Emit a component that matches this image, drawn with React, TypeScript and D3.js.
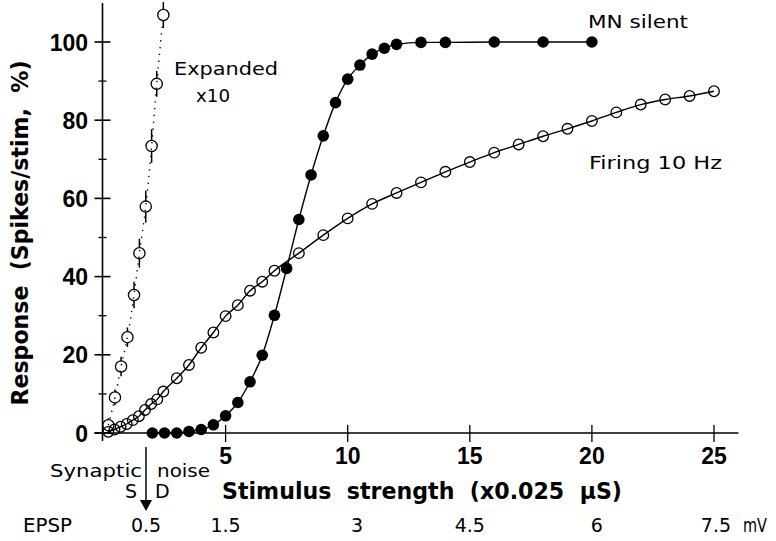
import React from "react";
import * as d3 from "d3";

const W = 776;
const H = 541;

// MN silent (filled circles)
const silentX = [2, 2.5, 3, 3.5, 4, 4.5, 5, 5.5, 6, 6.5, 7, 7.5, 8, 8.5, 9, 9.5, 10, 10.5, 11, 11.5, 12, 13, 14, 16, 18, 20];
const silentY = [0, 0, 0, 0.4, 0.9, 2.1, 4.4, 7.8, 13.1, 19.9, 30.1, 42.1, 54.6, 66.0, 76.0, 84.5, 90.5, 94.1, 96.9, 98.4, 99.4, 99.9, 99.9, 100, 100, 100];

// Firing 10 Hz (open circles)
const firingX = [0.2, 0.45, 0.7, 0.95, 1.2, 1.45, 1.7, 1.95, 2.2, 2.45, 3, 3.5, 4, 4.5, 5, 5.5, 6, 6.5, 7, 8, 9, 10, 11, 12, 13, 14, 15, 16, 17, 18, 19, 20, 21, 22, 23, 24, 25];
const firingY = [0.3, 0.9, 1.6, 2.3, 3.3, 4.3, 5.9, 7.4, 8.6, 10.6, 14.0, 17.4, 21.8, 25.7, 29.9, 32.7, 36.4, 38.7, 41.5, 46.0, 50.6, 54.9, 58.6, 61.4, 64.1, 66.8, 69.3, 71.7, 73.8, 75.9, 77.8, 79.8, 82.0, 84.0, 85.3, 86.2, 87.4];

// Expanded x10 (open circles with error bars, dotted)
const expX = [0.2, 0.47, 0.72, 0.98, 1.25, 1.47, 1.73, 1.97, 2.18, 2.45];
const expY = [2.0, 9.1, 17.0, 24.5, 35.3, 46.0, 57.9, 73.4, 89.3, 106.9];
const expErr = [1.8, 2.0, 2.5, 2.5, 3.4, 3.7, 4.1, 4.3, 3.3, 3.3];

// Axes
const xTicks = [5, 10, 15, 20, 25];
const yMajor = [0, 20, 40, 60, 80, 100];
const yMinor = [10, 30, 50, 70, 90];

// EPSP secondary scale
const epspLabels = ["0.5", "1.5", "3", "4.5", "6", "7.5"];
const epspPos = [1.74, 5.0, 10.38, 15.0, 20.2, 25.08];
const noiseStim = 1.74;

const x = d3.scaleLinear().domain([0, 25]).range([103.5, 714]);
const y = d3.scaleLinear().domain([0, 100]).range([433, 42]);

const line = d3
  .line<[number, number]>()
  .x((d) => x(d[0]))
  .y((d) => y(d[1]))
  .curve(d3.curveMonotoneX);

const zip = (a: number[], b: number[]) => a.map((v, i) => [v, b[i]] as [number, number]);

const BOLD = "'Liberation Sans', Arial, sans-serif";
const TITLE = "'DejaVu Sans', 'Liberation Sans', sans-serif";
const THIN = "'DejaVu Sans', sans-serif";

export default function App() {
  const silent = zip(silentX, silentY);
  const firing = zip(firingX, firingY);
  const expanded = zip(expX, expY);
  const r = 5.3;
  const x0 = x(0);
  const y0 = y(0);
  const arrowX = x(noiseStim);

  return (
    <svg
      width={W}
      height={H}
      viewBox={`0 0 ${W} ${H}`}
      style={{ position: "absolute", left: 0, top: 0, background: "#fff" }}
    >
      <rect x={0} y={0} width={W} height={H} fill="#fff" />

      {/* Axes */}
      <g stroke="#000" strokeWidth={1.6} fill="none">
        <line x1={x0 - 1} y1={y(110)} x2={x0 - 1} y2={y0 + 8} />
        <line x1={x0 - 9} y1={y0} x2={x(26)} y2={y0} />
        {yMajor.map((v) => (
          <line key={"ym" + v} x1={x0 - 9} x2={x0 + 7} y1={y(v)} y2={y(v)} />
        ))}
        {yMinor.map((v) => (
          <line key={"yn" + v} x1={x0 - 5} x2={x0 + 3} y1={y(v)} y2={y(v)} strokeWidth={1.3} />
        ))}
        {xTicks.map((v) => (
          <line key={"xt" + v} x1={x(v)} x2={x(v)} y1={y0 - 8} y2={y0 + 9} strokeWidth={1.3} />
        ))}
      </g>

      {/* Y tick labels */}
      <g fontFamily={BOLD} fontWeight="bold" fontSize={23} textAnchor="end" fill="#000">
        {yMajor.map((v) => (
          <text key={"yl" + v} x={88} y={y(v) + 8.5}>
            {v}
          </text>
        ))}
      </g>
      {/* X tick labels */}
      <g fontFamily={BOLD} fontWeight="bold" fontSize={23} textAnchor="middle" fill="#000">
        {xTicks.map((v) => (
          <text key={"xl" + v} x={x(v)} y={464}>
            {v}
          </text>
        ))}
      </g>

      {/* Axis titles */}
      <text
        x={422}
        y={499}
        fontFamily={TITLE}
        fontWeight="bold"
        fontSize={23}
        textAnchor="middle"
        textLength={400}
        lengthAdjust="spacingAndGlyphs"
        style={{ whiteSpace: "pre" }}
      >
        {"Stimulus  strength  (x0.025  μS)"}
      </text>
      <text
        transform={`translate(28,233) rotate(-90)`}
        fontFamily={TITLE}
        fontWeight="bold"
        fontSize={23}
        textAnchor="middle"
        textLength={345}
        lengthAdjust="spacingAndGlyphs"
        style={{ whiteSpace: "pre" }}
      >
        {"Response  (Spikes/stim,  %)"}
      </text>

      {/* Expanded curve: dotted line, error bars, open circles */}
      <path
        d={line(expanded) || ""}
        fill="none"
        stroke="#000"
        strokeWidth={1.4}
        strokeDasharray="1.3 5.5"
      />
      <g stroke="#000" strokeWidth={1.5}>
        {expanded.map(([xv, yv], i) => {
          const cy = y(yv);
          const top = y(yv + expErr[i]);
          const bot = y(yv - expErr[i]);
          return (
            <g key={"eb" + i}>
              {top < cy - r && <line x1={x(xv)} x2={x(xv)} y1={top} y2={cy - r} />}
              {bot > cy + r && <line x1={x(xv)} x2={x(xv)} y1={cy + r} y2={bot} />}
            </g>
          );
        })}
      </g>
      <g fill="none" stroke="#000" strokeWidth={1.3}>
        {expanded.map(([xv, yv], i) => (
          <circle key={"ec" + i} cx={x(xv)} cy={y(yv)} r={r + 0.3} />
        ))}
      </g>

      {/* Firing 10 Hz */}
      <path d={line(firing) || ""} fill="none" stroke="#000" strokeWidth={1.4} />
      <g fill="none" stroke="#000" strokeWidth={1.3}>
        {firing.map(([xv, yv], i) => (
          <circle key={"fc" + i} cx={x(xv)} cy={y(yv)} r={r} />
        ))}
      </g>

      {/* MN silent */}
      <path d={line(silent) || ""} fill="none" stroke="#000" strokeWidth={1.4} />
      <g fill="#000">
        {silent.map(([xv, yv], i) => (
          <circle key={"sc" + i} cx={x(xv)} cy={y(yv)} r={5.8} />
        ))}
      </g>

      {/* Curve labels */}
      <g fontFamily={THIN} fontWeight="normal" fontSize={18} fill="#000" style={{ whiteSpace: "pre" }}>
        <text x={174} y={75} textLength={104} lengthAdjust="spacingAndGlyphs">Expanded</text>
        <text x={196} y={102} textLength={34} lengthAdjust="spacingAndGlyphs">x10</text>
        <text x={588} y={28} textLength={100} lengthAdjust="spacingAndGlyphs">{"MN  silent"}</text>
        <text x={589} y={169} textLength={133} lengthAdjust="spacingAndGlyphs">{"Firing  10  Hz"}</text>
        <text x={50} y={477} textLength={92} lengthAdjust="spacingAndGlyphs">Synaptic</text>
        <text x={157} y={477} textLength={53} lengthAdjust="spacingAndGlyphs">noise</text>
        <text x={arrowX - 9} y={498} textAnchor="end" fontSize={19}>S</text>
        <text x={arrowX + 9} y={498} textAnchor="start" fontSize={19}>D</text>
      </g>

      {/* Synaptic noise arrow */}
      <line x1={arrowX} x2={arrowX} y1={y0 + 14} y2={501} stroke="#000" strokeWidth={1.5} />
      <path
        d={`M${arrowX - 6},500 L${arrowX + 6},500 L${arrowX},511 Z`}
        fill="#000"
      />

      {/* EPSP scale */}
      <g fontFamily={THIN} fontWeight="normal" fontSize={19} fill="#000">
        <text x={23} y={532} textLength={49} lengthAdjust="spacingAndGlyphs">EPSP</text>
        {epspLabels.map((l, i) => (
          <text key={"ep" + i} x={x(epspPos[i])} y={532} textAnchor="middle">
            {l}
          </text>
        ))}
        <text x={743} y={532} textLength={24} lengthAdjust="spacingAndGlyphs">mV</text>
      </g>
    </svg>
  );
}
